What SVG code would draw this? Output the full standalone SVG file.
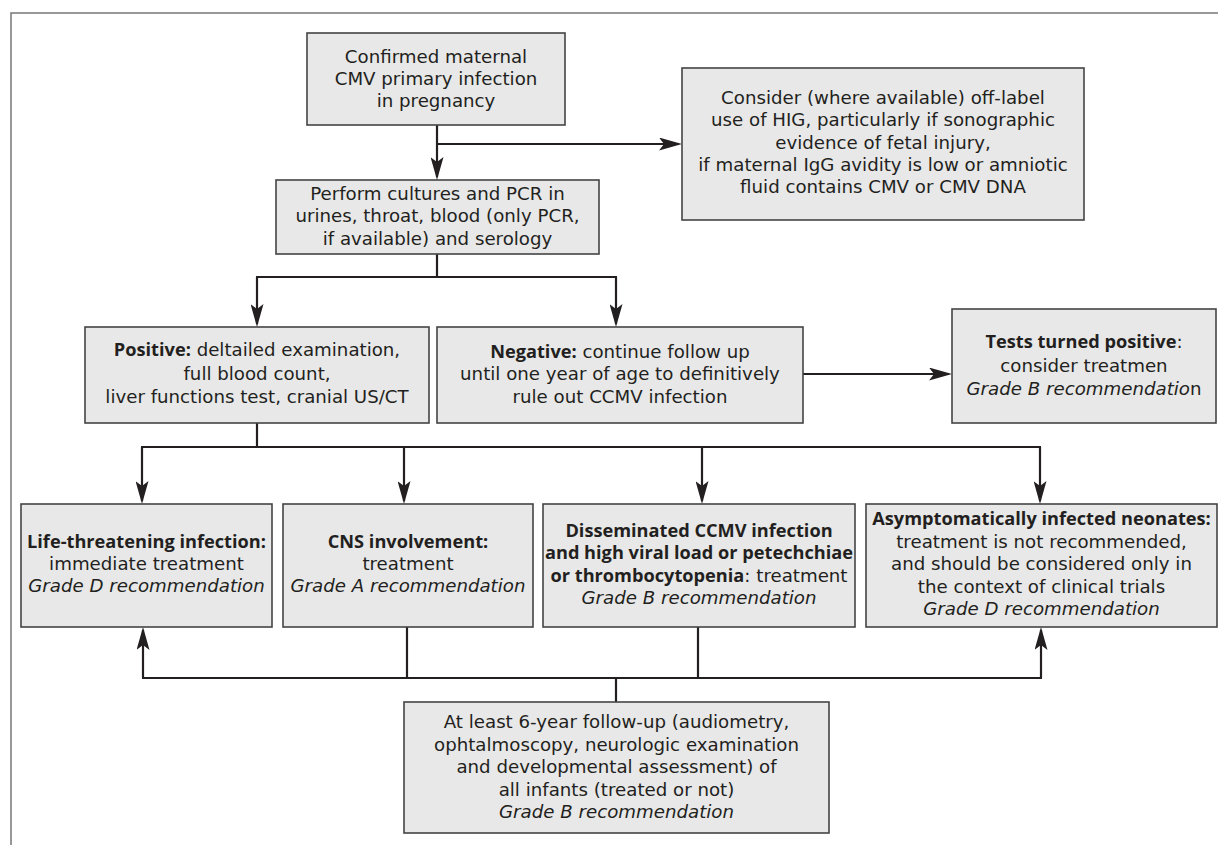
<svg xmlns="http://www.w3.org/2000/svg" width="1218" height="845" viewBox="0 0 1218 845">
<style>
.box{fill:#e8e8e8;stroke:#444;stroke-width:1.6}
.t{font-family:"DejaVu Sans","Open Sans",sans-serif;font-size:18.2px;fill:#231f20;text-anchor:middle}
.b{font-family:"Open Sans","DejaVu Sans",sans-serif;font-weight:bold}
.i{font-style:italic}
.c{fill:none;stroke:#231f20;stroke-width:2.2}
.frame{fill:none;stroke:#777;stroke-width:1.5}
</style>
<defs>
<marker id="ah" markerUnits="userSpaceOnUse" markerWidth="23" markerHeight="13" refX="20" refY="6.5" orient="auto" viewBox="0 0 23 13">
<path d="M0,0 L23,6.5 L0,13 L5,6.5 Z" fill="#231f20"/>
</marker>
</defs>
<rect width="1218" height="845" fill="#fff"/>
<path class="frame" d="M11,845 V13 H1218"/>

<g id="connectors">
<path class="c" d="M437,125 V177" marker-end="url(#ah)"/>
<path class="c" d="M437,144 H679" marker-end="url(#ah)"/>
<path class="c" d="M437,254 V277 M256,277 H617"/>
<path class="c" d="M257,277 V324" marker-end="url(#ah)"/>
<path class="c" d="M616,277 V324" marker-end="url(#ah)"/>
<path class="c" d="M803,374 H949" marker-end="url(#ah)"/>
<path class="c" d="M257,423 V447 M141,447 H1041"/>
<path class="c" d="M142,447 V501" marker-end="url(#ah)"/>
<path class="c" d="M404,447 V501" marker-end="url(#ah)"/>
<path class="c" d="M702,447 V501" marker-end="url(#ah)"/>
<path class="c" d="M1040,447 V501" marker-end="url(#ah)"/>
<path class="c" d="M407,627 V678 M698,627 V678 M142,678 H1042 M616,678 V702"/>
<path class="c" d="M143,678 V630" marker-end="url(#ah)"/>
<path class="c" d="M1041,678 V630" marker-end="url(#ah)"/>
</g>

<g id="n1">
<rect class="box" x="307" y="33" width="258" height="92"/>
<text class="t" x="436" y="63">Confirmed maternal</text>
<text class="t" x="436" y="85">CMV primary infection</text>
<text class="t" x="436" y="107">in pregnancy</text>
</g>
<g id="n2">
<rect class="box" x="276" y="180" width="323" height="74"/>
<text class="t" x="437.5" y="200">Perform cultures and PCR in</text>
<text class="t" x="437.5" y="222">urines, throat, blood (only PCR,</text>
<text class="t" x="437.5" y="245">if available) and serology</text>
</g>
<g id="n3">
<rect class="box" x="682" y="68" width="402" height="152"/>
<text class="t" x="883" y="104">Consider (where available) off-label</text>
<text class="t" x="883" y="126">use of HIG, particularly if sonographic</text>
<text class="t" x="883" y="149">evidence of fetal injury,</text>
<text class="t" x="883" y="171">if maternal IgG avidity is low or amniotic</text>
<text class="t" x="883" y="193">fluid contains CMV or CMV DNA</text>
</g>
<g id="n4">
<rect class="box" x="85" y="327" width="344" height="96"/>
<text class="t" x="257" y="356"><tspan class="b">Positive:</tspan> deltailed examination,</text>
<text class="t" x="257" y="380">full blood count,</text>
<text class="t" x="257" y="403">liver functions test, cranial US/CT</text>
</g>
<g id="n5">
<rect class="box" x="437" y="327" width="366" height="96"/>
<text class="t" x="620" y="358"><tspan class="b">Negative:</tspan> continue follow up</text>
<text class="t" x="620" y="380">until one year of age to definitively</text>
<text class="t" x="620" y="403">rule out CCMV infection</text>
</g>
<g id="n6">
<rect class="box" x="952" y="309" width="264" height="114"/>
<text class="t" x="1084" y="348"><tspan class="b">Tests turned positive</tspan>:</text>
<text class="t" x="1084" y="372">consider treatmen</text>
<text class="t" x="1084" y="395"><tspan class="i">Grade B recommendatio</tspan>n</text>
</g>
<g id="n7">
<rect class="box" x="21" y="504" width="251" height="123"/>
<text class="t b" x="146.5" y="548">Life-threatening infection:</text>
<text class="t" x="146.5" y="570">immediate treatment</text>
<text class="t i" x="146.5" y="592">Grade D recommendation</text>
</g>
<g id="n8">
<rect class="box" x="283" y="504" width="250" height="123"/>
<text class="t b" x="408" y="548">CNS involvement:</text>
<text class="t" x="408" y="570">treatment</text>
<text class="t i" x="408" y="592">Grade A recommendation</text>
</g>
<g id="n9">
<rect class="box" x="543" y="504" width="312" height="123"/>
<text class="t b" x="699" y="537">Disseminated CCMV infection</text>
<text class="t b" x="699" y="559">and high viral load or petechchiae</text>
<text class="t" x="699" y="582"><tspan class="b">or thrombocytopenia</tspan>: treatment</text>
<text class="t i" x="699" y="604">Grade B recommendation</text>
</g>
<g id="n10">
<rect class="box" x="866" y="504" width="351" height="123"/>
<text class="t b" x="1041.5" y="525">Asymptomatically infected neonates:</text>
<text class="t" x="1041.5" y="548">treatment is not recommended,</text>
<text class="t" x="1041.5" y="570">and should be considered only in</text>
<text class="t" x="1041.5" y="593">the context of clinical trials</text>
<text class="t i" x="1041.5" y="615">Grade D recommendation</text>
</g>
<g id="n11">
<rect class="box" x="404" y="702" width="425" height="131"/>
<text class="t" x="616.5" y="728">At least 6-year follow-up (audiometry,</text>
<text class="t" x="616.5" y="751">ophtalmoscopy, neurologic examination</text>
<text class="t" x="616.5" y="773">and developmental assessment) of</text>
<text class="t" x="616.5" y="796">all infants (treated or not)</text>
<text class="t i" x="616.5" y="818">Grade B recommendation</text>
</g>
</svg>
